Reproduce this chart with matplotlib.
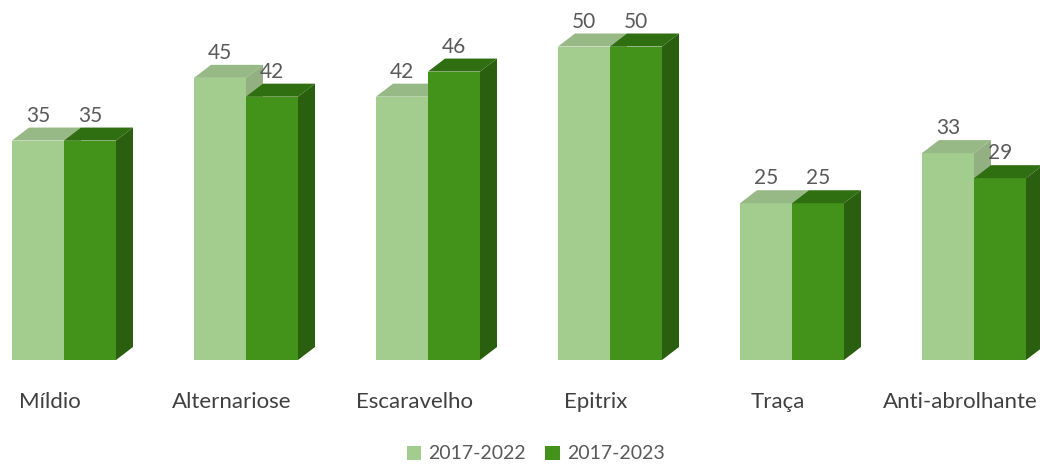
import matplotlib.pyplot as plt
from matplotlib.patches import Polygon, Patch

plt.rcParams['font.family'] = ['Lato', 'DejaVu Sans']

categories = ["Míldio", "Alternariose", "Escaravelho", "Epitrix", "Traça", "Anti-abrolhante"]
series_names = ["2017-2022", "2017-2023"]
vals_2022 = [35, 45, 42, 50, 25, 33]
vals_2023 = [35, 42, 46, 50, 25, 29]

# colours: front, top, side
light = ("#a3cd8f", "#96b986", "#93b083")
dark = ("#43931a", "#2f6f12", "#295f0e")

fig = plt.figure(figsize=(10.4, 4.68), dpi=100)
ax = fig.add_axes([0, 0, 1, 1])
px = 6.27  # pixels per unit
ax.set_xlim(0, 1040)
ax.set_ylim(-108 / px, (468 - 108) / px)
ax.axis("off")

start, step, width = 12, 182, 52
dx, dy = 17, 13 / px


def bar3d(x0, h, cols):
    front, top, side = cols
    ax.add_patch(Polygon([(x0, 0), (x0 + width, 0), (x0 + width, h), (x0, h)],
                         closed=True, fc=front, ec="none"))
    ax.add_patch(Polygon([(x0, h), (x0 + width, h), (x0 + width + dx, h + dy), (x0 + dx, h + dy)],
                         closed=True, fc=top, ec="none"))
    ax.add_patch(Polygon([(x0 + width, 0), (x0 + width + dx, dy), (x0 + width + dx, h + dy), (x0 + width, h)],
                         closed=True, fc=side, ec="none"))
    ax.text(x0 + width / 2, h + dy + 0.3, f"{h}", ha="center", va="bottom",
            fontsize=15, color="#595959")


for i, cat in enumerate(categories):
    left = start + step * i
    bar3d(left, vals_2022[i], light)
    bar3d(left + width, vals_2023[i], dark)
    ax.text(left + width - 14, -6.7, cat, ha="center", va="center",
            fontsize=16, color="#404040")

handles = [Patch(fc=light[0], ec="none"), Patch(fc=dark[0], ec="none")]
fig.legend(handles, series_names, loc="center", bbox_to_anchor=(0.515, 0.03),
           ncol=2, frameon=False, fontsize=14, handlelength=0.75, handleheight=0.75,
           handletextpad=0.35, columnspacing=1.0, labelcolor="#595959",
           borderpad=0.1)

fig.savefig("out.png", dpi=100)
